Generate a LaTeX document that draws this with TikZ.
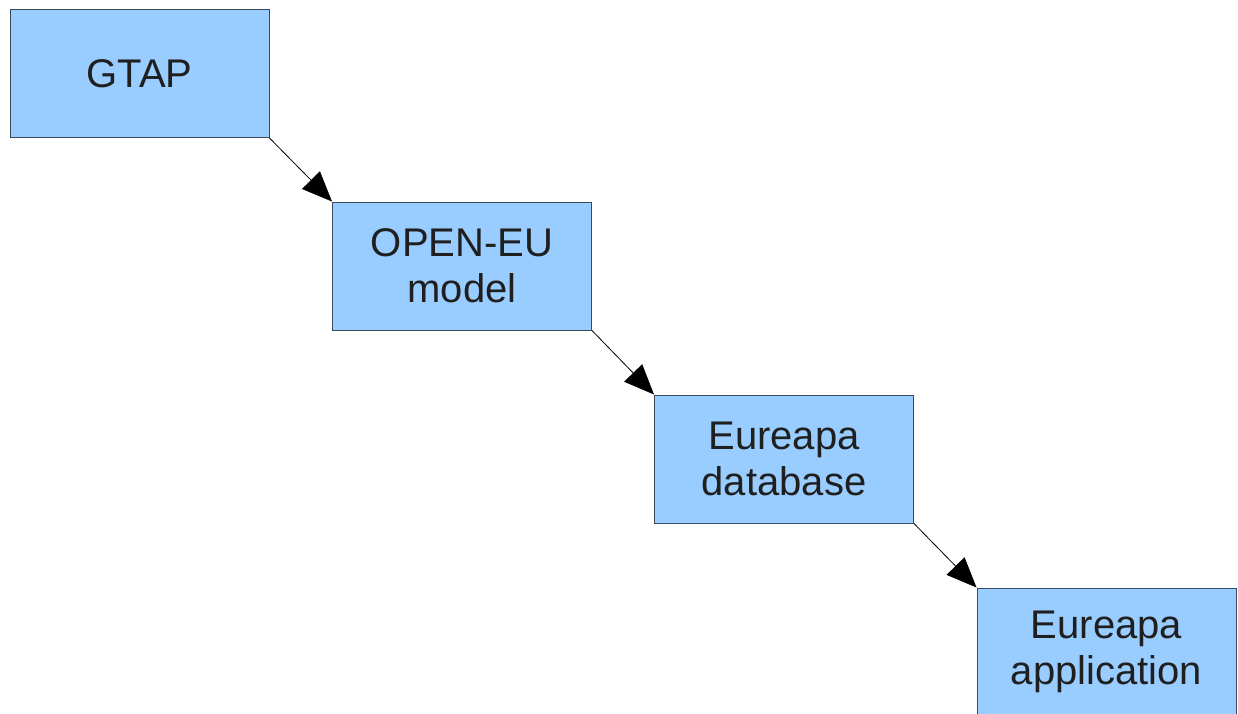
\documentclass[tikz,border=0pt]{standalone}
\usepackage{fontspec}
\setmainfont{Liberation Sans}
\usetikzlibrary{arrows.meta}
\definecolor{boxblue}{HTML}{99CCFF}
\definecolor{boxline}{HTML}{3A4A5A}
\tikzset{
  stagebox/.style={draw=boxline,fill=boxblue,line width=1pt,rectangle,
    minimum width=259pt,minimum height=128pt,align=center,inner sep=0pt,
    font=\fontsize{40}{46}\selectfont,text=black!88},
  flow/.style={line width=0.8pt,-{Triangle[length=30pt,width=25pt]}}
}
\begin{document}
\begin{tikzpicture}[x=1pt,y=-1pt]
        \useasboundingbox (0,0) rectangle (1238,713);
        % Define the nodes for the chain
        \node[stagebox] (gtap)        at (139.5,73.5) {GTAP};
        \node[stagebox] (openeu)      at (462,266)    {OPEN-EU\\model};
        \node[stagebox] (database)    at (784,459)    {Eureapa\\database};
        \node[stagebox] (application) at (1106.5,652) {Eureapa\\application};
        % Connect the nodes corner to corner
        \draw[flow] (gtap.south east)     -- (openeu.north west);
        \draw[flow] (openeu.south east)   -- (database.north west);
        \draw[flow] (database.south east) -- (application.north west);
    \end{tikzpicture}
\end{document}
